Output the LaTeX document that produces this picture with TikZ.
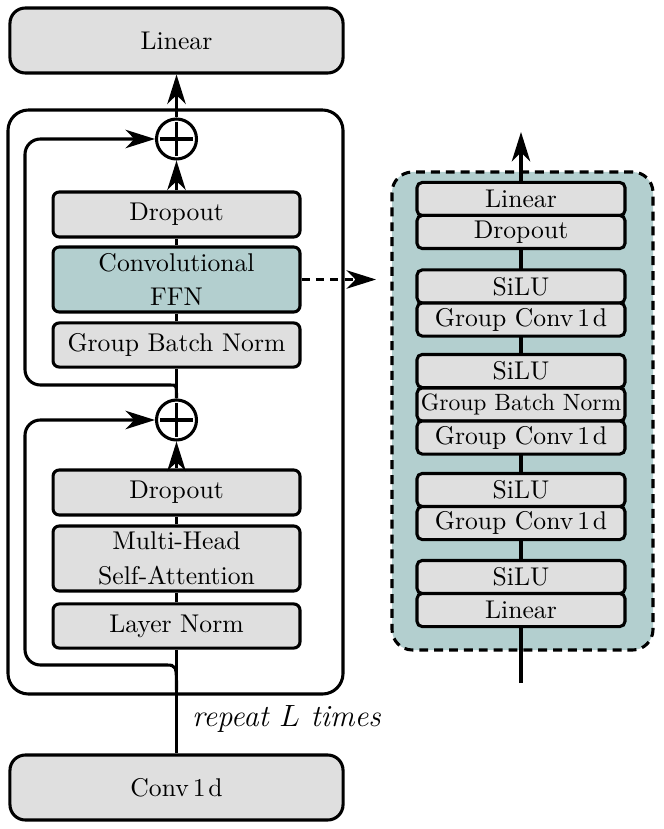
\documentclass[tikz,border=0pt]{standalone}
\usetikzlibrary{arrows.meta}
\definecolor{boxgray}{HTML}{DFDFDF}
\definecolor{tealbg}{HTML}{B3CFCF}
\newcommand{\convod}{Conv\kern1.6pt1\kern1pt d}
\begin{document}
\begin{tikzpicture}[x=0.39pt,y=-0.39pt,
  lw/.style={line width=1.2pt},
  tip/.style={-{Stealth[length=11.5pt,width=7.2pt,inset=3.5pt]}},
  blk/.style={draw, lw, fill=boxgray, rounded corners=2.4pt, minimum width=96.3pt, inner sep=0pt, align=center},
  big/.style={draw, lw, fill=boxgray, rounded corners=6pt, minimum width=129.9pt, minimum height=25.35pt},
  sm/.style={draw, lw, fill=boxgray, rounded corners=2pt, minimum width=81.1pt, minimum height=12.9pt, inner sep=0pt},
  addop/.style={draw, lw, circle, fill=white, minimum size=15.6pt, inner sep=0pt,
    path picture={\draw[line width=1.35pt]
      ([xshift=1.3pt]path picture bounding box.west) -- ([xshift=-1.3pt]path picture bounding box.east)
      ([yshift=-1.3pt]path picture bounding box.north) -- ([yshift=1.3pt]path picture bounding box.south);}}
]
\useasboundingbox (0,0) rectangle (664,829);

% outer repeat box
\draw[lw, rounded corners=8pt] (8,110) rectangle (343,694);

% left column
\node[big] (lin) at (176.5,40.5) {Linear};
\node[big] (conv) at (176.5,787.5) {\convod};
\node[blk, minimum height=17.55pt] (do1) at (176.5,214.5) {Dropout};
\node[blk, minimum height=25.35pt, fill=tealbg] (ffn) at (176.5,279.5) {Convolutional\\[1.5pt]FFN};
\node[blk, minimum height=17.2pt] (gbn) at (176.5,345) {Group Batch Norm};
\node[blk, minimum height=17.55pt] (do2) at (176.5,492.5) {Dropout};
\node[blk, minimum height=25.35pt] (mhsa) at (176.5,558.5) {Multi-Head\\[1.5pt]Self-Attention};
\node[blk, minimum height=17.2pt] (ln) at (176.5,626) {Layer Norm};
\node[addop] (p1) at (176.5,139) {};
\node[addop] (p2) at (176.5,420) {};
\coordinate (br) at (176.5,690);

\draw[lw] (conv.north) -- (ln.south);
\draw[lw] (ln.north) -- (mhsa.south);
\draw[lw] (mhsa.north) -- (do2.south);
\draw[lw, tip] (do2.north) -- (p2.south);
\draw[lw] (p2.north) -- (gbn.south);
\draw[lw] (gbn.north) -- (ffn.south);
\draw[lw] (ffn.north) -- (do1.south);
\draw[lw, tip] (do1.north) -- (p1.south);
\draw[lw, tip] (p1.north) -- (lin.south);

% residual connections
\draw[lw, tip, rounded corners=6pt] (br) .. controls (176.5,665) .. (150,665) -- (25,665) |- (p2.west);
\draw[lw, tip, rounded corners=6pt] (p2.north) .. controls (176.5,385) .. (155,385) -- (25,385) |- (p1.west);

\node[anchor=west, font=\large\itshape] (rep) at (183,719) {repeat $L$ times};

% right panel
\draw[lw, fill=tealbg, rounded corners=8pt, dash pattern=on 3.5pt off 2.3pt] (392,172) rectangle (653,650);
\coordinate (rin) at (521,683);
\coordinate (rout) at (521,132);
\draw[lw, tip] (rin) -- (rout);
\node[sm] (r1) at (521,199) {Linear};
\node[sm] (r2) at (521,232) {Dropout};
\node[sm] (r3) at (521,286.5) {SiLU};
\node[sm] (r4) at (521,319.5) {Group \convod};
\node[sm] (r5) at (521,371) {SiLU};
\node[sm] (r6) at (521,404.5) {\scalebox{0.92}{Group Batch Norm}};
\node[sm] (r7) at (521,437.5) {Group \convod};
\node[sm] (r8) at (521,490) {SiLU};
\node[sm] (r9) at (521,523) {Group \convod};
\node[sm] (r10) at (521,577) {SiLU};
\node[sm] (r11) at (521,610) {Linear};

\coordinate (dend) at (376,279.5);
\draw[lw, tip, dash pattern=on 3.2pt off 2.4pt] (ffn.east) -- (dend);
\end{tikzpicture}
\end{document}
